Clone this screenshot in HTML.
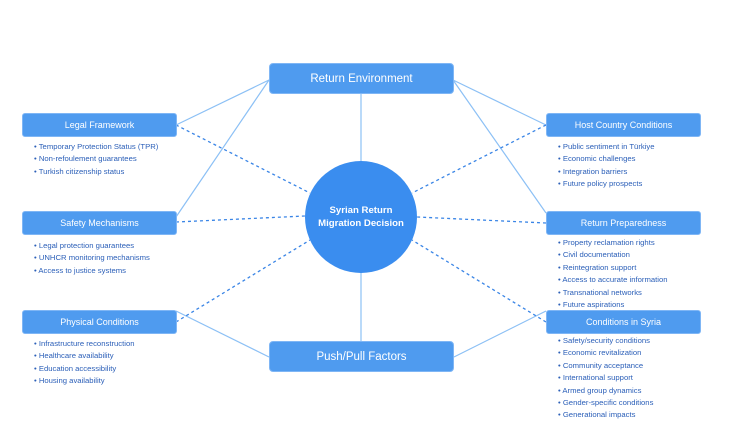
<!DOCTYPE html>
<html><head><meta charset="utf-8"><style>
body{margin:0;width:736px;height:442px;background:#fff;position:relative;font-family:"Liberation Sans",sans-serif;overflow:hidden}
.b{position:absolute;background:#4f9bef;color:#fff;border-radius:3px;display:flex;align-items:center;justify-content:center;font-size:9px;border:1px solid #7fb6f5;box-sizing:border-box}
.big{font-size:11.5px;border-radius:4px}
ul{position:absolute;margin:0;padding:0;list-style:none;font-size:7.7px;color:#2b5fb8;line-height:12.4px}
ul li:before{content:"• "}
.c{position:absolute;left:305px;top:161px;width:112px;height:112px;border-radius:50%;background:#3a8def;color:#fff;font-weight:bold;font-size:9.6px;display:flex;align-items:center;justify-content:center;text-align:center;line-height:13px}
svg{position:absolute;left:0;top:0}
</style></head><body>
<svg width="736" height="442">
<g stroke="#8cc0f5" stroke-width="1.2" fill="none">
<line x1="269" y1="80" x2="176" y2="125"/><line x1="269" y1="80" x2="176" y2="217"/>
<line x1="453" y1="80" x2="546" y2="125"/><line x1="453" y1="80" x2="546" y2="213"/>
<line x1="361" y1="93" x2="361" y2="162"/><line x1="361" y1="272" x2="361" y2="342"/>
<line x1="269" y1="357" x2="176" y2="311"/><line x1="454" y1="357" x2="546" y2="311"/>
</g>
<g stroke="#3a85e6" stroke-width="1.3" stroke-dasharray="3,3" fill="none">
<line x1="176" y1="125" x2="310" y2="193"/><line x1="176" y1="222" x2="305" y2="216"/>
<line x1="176" y1="322" x2="310" y2="240"/><line x1="546" y1="125" x2="412" y2="193"/>
<line x1="546" y1="223" x2="417" y2="217"/><line x1="546" y1="322" x2="412" y2="240"/>
</g></svg>
<div class="b big" style="left:269px;top:63px;width:185px;height:31px">Return Environment</div>
<div class="b big" style="left:269px;top:341px;width:185px;height:31px">Push/Pull Factors</div>
<div class="c">Syrian Return<br>Migration Decision</div>
<div class="b" style="left:22px;top:113px;width:155px;height:24px">Legal Framework</div>
<div class="b" style="left:22px;top:211px;width:155px;height:24px">Safety Mechanisms</div>
<div class="b" style="left:22px;top:310px;width:155px;height:24px">Physical Conditions</div>
<div class="b" style="left:546px;top:113px;width:155px;height:24px">Host Country Conditions</div>
<div class="b" style="left:546px;top:211px;width:155px;height:24px">Return Preparedness</div>
<div class="b" style="left:546px;top:310px;width:155px;height:24px">Conditions in Syria</div>
<ul style="left:34px;top:141px"><li>Temporary Protection Status (TPR)</li><li>Non-refoulement guarantees</li><li>Turkish citizenship status</li></ul>
<ul style="left:34px;top:240px"><li>Legal protection guarantees</li><li>UNHCR monitoring mechanisms</li><li>Access to justice systems</li></ul>
<ul style="left:34px;top:338px"><li>Infrastructure reconstruction</li><li>Healthcare availability</li><li>Education accessibility</li><li>Housing availability</li></ul>
<ul style="left:558px;top:141px"><li>Public sentiment in Türkiye</li><li>Economic challenges</li><li>Integration barriers</li><li>Future policy prospects</li></ul>
<ul style="left:558px;top:237px"><li>Property reclamation rights</li><li>Civil documentation</li><li>Reintegration support</li><li>Access to accurate information</li><li>Transnational networks</li><li>Future aspirations</li></ul>
<ul style="left:558px;top:335px"><li>Safety/security conditions</li><li>Economic revitalization</li><li>Community acceptance</li><li>International support</li><li>Armed group dynamics</li><li>Gender-specific conditions</li><li>Generational impacts</li></ul>
</body></html>
